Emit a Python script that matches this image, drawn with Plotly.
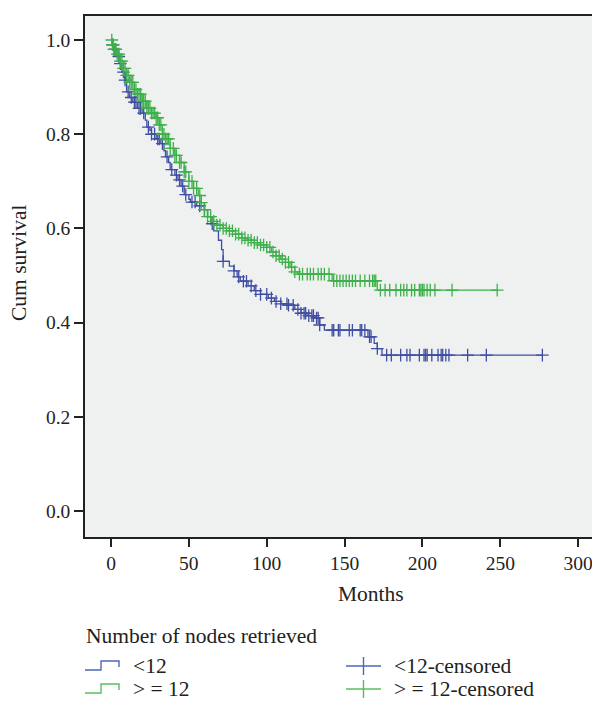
import numpy as np
import plotly.graph_objects as go

# ---------------- data (months, cumulative survival) ----------------
blue_time = [0, 1, 2, 4, 6, 7, 9, 10, 12, 14, 17, 20, 22, 23, 25, 26, 29, 32, 34, 35,
             37, 38, 41, 43, 45, 47, 50, 51, 55, 60, 62, 64, 66, 69, 71, 72, 76, 79, 81,
             83, 88, 92, 96, 101, 105, 109, 114, 118, 122, 126, 131, 134, 137, 165, 169,
             171, 174]
blue_surv = [1.0, 0.99, 0.98, 0.965, 0.95, 0.932, 0.915, 0.89, 0.878, 0.868, 0.855, 0.845,
             0.83, 0.815, 0.808, 0.80, 0.79, 0.78, 0.765, 0.752, 0.74, 0.725, 0.713, 0.703,
             0.69, 0.672, 0.662, 0.656, 0.648, 0.64, 0.625, 0.61, 0.595, 0.575, 0.555, 0.53,
             0.52, 0.51, 0.497, 0.488, 0.478, 0.468, 0.46, 0.452, 0.445, 0.44, 0.437, 0.428,
             0.42, 0.415, 0.41, 0.395, 0.384, 0.37, 0.356, 0.345, 0.331]
blue_censor = [1, 2, 3, 5, 6, 8, 9, 11, 13, 15, 16, 18, 19, 21, 24, 26, 28, 30, 31, 33, 36,
               39, 42, 44, 46, 48, 52, 54, 57, 60, 65, 72, 79, 82, 85, 87, 90, 93, 96, 100,
               103, 106, 109, 113, 114, 117, 120, 122, 124, 125, 127, 129, 130, 132, 133,
               134, 142, 143, 146, 147, 153, 155, 160, 161, 163, 166, 167, 171, 177, 180,
               186, 190, 192, 198, 201, 202, 203, 206, 210, 212, 213, 215, 217, 229, 241, 277]

green_time = [0, 1, 2, 4, 6, 8, 10, 12, 15, 17, 20, 23, 26, 29, 31, 33, 35, 38, 41, 44, 47,
              50, 53, 56, 58, 60, 62, 65, 68, 72, 76, 80, 84, 88, 92, 96, 100, 103, 106, 109,
              112, 115, 118, 120, 142, 171]
green_surv = [1.0, 0.99, 0.98, 0.97, 0.955, 0.94, 0.925, 0.91, 0.895, 0.885, 0.87, 0.855,
              0.845, 0.835, 0.82, 0.80, 0.79, 0.77, 0.755, 0.74, 0.72, 0.70, 0.685, 0.67,
              0.655, 0.64, 0.625, 0.615, 0.607, 0.60, 0.595, 0.588, 0.58, 0.575, 0.57, 0.565,
              0.56, 0.55, 0.542, 0.535, 0.528, 0.518, 0.508, 0.503, 0.489, 0.469]
green_censor = [0.5, 1, 1.5, 2, 3, 4, 5, 6, 7, 8, 9, 10, 11, 12, 13, 14, 15, 16, 17, 18, 19,
                20, 21, 22, 23, 24, 25, 26, 27, 28, 29, 30, 31, 32, 33, 34, 35, 36, 37, 38,
                40, 41, 42, 44, 45, 47, 48, 50, 52, 53, 55, 57, 58, 60, 62, 64, 66, 68, 70,
                72, 74, 76, 78, 80, 82, 84, 86, 88, 90, 92, 94, 96, 98, 100, 102, 104, 106,
                108, 110, 112, 114, 116, 118, 121, 123, 126, 128, 130, 133, 135, 137, 140,
                143, 145, 147, 149, 151, 153, 155, 157, 160, 163, 166, 168, 169, 170, 173,
                176, 179, 183, 186, 188, 190, 193, 195, 198, 199, 200, 201, 203, 205, 208,
                219, 248]

x_ticks = [0, 50, 100, 150, 200, 250, 300]
y_ticks = [0.0, 0.2, 0.4, 0.6, 0.8, 1.0]
y_tick_labels = ["0.0", "0.2", "0.4", "0.6", "0.8", "1.0"]

group_names = ["<12", "> = 12"]
legend_title = "Number of nodes retrieved"

# ---------------- styling ----------------
BLUE = "#3f4ea3"
GREEN = "#3db04a"
BLUE_LEG = "#4a68b4"
GREEN_LEG = "#58be5c"
FONT = "Liberation Serif"
OFF = 8  # default page body margin
W, H = 600 - OFF, 712 - OFF
L, R, T = 85 - OFF, 0, 16 - OFF
B = H - (537 - OFF)
PW, PH = W - L - R, H - T - B
TICK_SIZE = 19.5
TEXT_SIZE = 21.5


def step_at(times, survs, t):
    idx = np.searchsorted(np.asarray(times, float), t, side="right") - 1
    return np.asarray(survs)[idx]


def px_x(p):
    # p is a pixel x in the reference screenshot
    return (p - OFF - L) / PW


def px_y(p):
    return (H - B - (p - OFF)) / PH


fig = go.Figure()

for times, survs, cens, col in [(blue_time, blue_surv, blue_censor, BLUE),
                                (green_time, green_surv, green_censor, GREEN)]:
    xs = list(times) + [max(cens)]
    ys = list(survs) + [survs[-1]]
    fig.add_trace(go.Scatter(x=xs, y=ys, mode="lines", line=dict(color=col, width=1.3, shape="hv"),
                             showlegend=False, hoverinfo="skip"))
    cy = [float(step_at(times, survs, c)) for c in cens]
    fig.add_trace(go.Scatter(x=cens, y=cy, mode="markers",
                             marker=dict(symbol="cross-thin", size=9, line=dict(color=col, width=1.3)),
                             showlegend=False, hoverinfo="skip"))

fig.update_layout(
    width=W, height=H,
    margin=dict(l=L, r=R, t=T, b=B),
    paper_bgcolor="white", plot_bgcolor="#eff1f0",
    font=dict(family=FONT, size=TICK_SIZE, color="#222222"),
    showlegend=False,
)
fig.update_xaxes(range=[-16.7, 314], tickvals=x_ticks, ticks="outside", ticklen=8,
                 tickwidth=1.5, tickcolor="#222", showline=True, linecolor="#222", linewidth=1.5,
                 mirror=True, showgrid=False, zeroline=False, tickfont=dict(size=TICK_SIZE))
fig.update_yaxes(range=[-0.055, 1.051], tickvals=y_ticks, ticktext=y_tick_labels, ticks="outside",
                 ticklen=9, tickwidth=1.5, tickcolor="#222", showline=True, linecolor="#222",
                 linewidth=1.5, showgrid=False, zeroline=False, tickfont=dict(size=TICK_SIZE))

ann = []
ann.append(dict(text="Months", x=px_x(371), y=px_y(594), xref="paper", yref="paper",
                showarrow=False, xanchor="center", yanchor="middle", font=dict(size=TEXT_SIZE)))
ann.append(dict(text="Cum survival", x=px_x(19), y=px_y(263), xref="paper", yref="paper",
                showarrow=False, xanchor="center", yanchor="middle", textangle=-90,
                font=dict(size=TEXT_SIZE)))
ann.append(dict(text=legend_title, x=px_x(84), y=px_y(636), xref="paper", yref="paper",
                showarrow=False, xanchor="left", yanchor="middle", font=dict(size=TEXT_SIZE)))

shapes = []
rows = [666, 689]
for i, (name, col) in enumerate(zip(group_names, [BLUE_LEG, GREEN_LEG])):
    yc = rows[i]
    pts = [(85, yc + 4), (101, yc + 4), (101, yc - 5), (119, yc - 5), (119, yc + 1)]
    path = "M " + " L ".join(f"{px_x(a):.5f},{px_y(b):.5f}" for a, b in pts)
    shapes.append(dict(type="path", path=path, xref="paper", yref="paper",
                       line=dict(color=col, width=1.4)))
    ann.append(dict(text=name, x=px_x(131), y=px_y(yc), xref="paper", yref="paper",
                    showarrow=False, xanchor="left", yanchor="middle", font=dict(size=TEXT_SIZE)))
    # censored symbol
    shapes.append(dict(type="line", xref="paper", yref="paper", x0=px_x(346), x1=px_x(381),
                       y0=px_y(yc), y1=px_y(yc), line=dict(color=col, width=1.4)))
    shapes.append(dict(type="line", xref="paper", yref="paper", x0=px_x(363.5), x1=px_x(363.5),
                       y0=px_y(yc - 9), y1=px_y(yc + 9), line=dict(color=col, width=1.4)))
    ann.append(dict(text=name + "-censored", x=px_x(392), y=px_y(yc), xref="paper", yref="paper",
                    showarrow=False, xanchor="left", yanchor="middle", font=dict(size=TEXT_SIZE)))

fig.update_layout(annotations=ann, shapes=shapes)
fig.write_html("out.html")
